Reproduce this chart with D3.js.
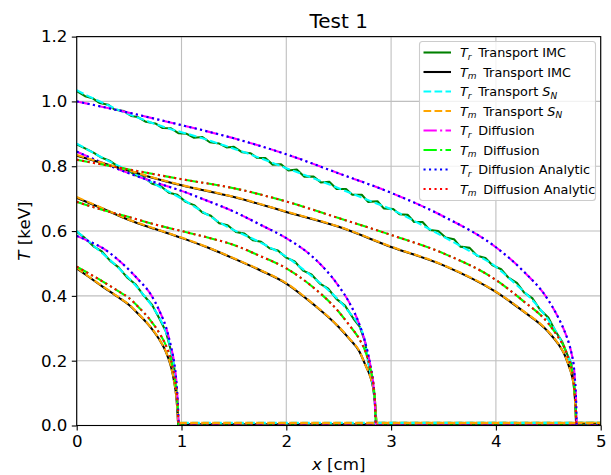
<!DOCTYPE html>
<html><head><meta charset="utf-8">
<script src="https://cdn.jsdelivr.net/npm/d3@7"></script>
<style>
html,body{margin:0;padding:0;background:#fff;}
text{font-family:"DejaVu Sans",sans-serif;}
</style></head>
<body>
<svg id="chart" width="611" height="475"></svg>
<script>
// ---------------- data ----------------
const title = "Test 1";
const xTicks = [0, 1, 2, 3, 4, 5];
const yTicks = [0.0, 0.2, 0.4, 0.6, 0.8, 1.0, 1.2];

// Snapshot 1 (front ~0.97 cm)
const trImc1 = [[0,0.598],[0.08,0.578],[0.16,0.553],[0.24,0.537],[0.32,0.508],[0.4,0.488],[0.48,0.457],[0.56,0.436],[0.64,0.401],[0.72,0.372],[0.8,0.323],[0.85,0.291],[0.9,0.23],[0.93,0.181],[0.95,0.118],[0.962,0.058],[0.97,0.003],[5,0.003]];
const tmImc1 = [[0,0.485],[0.1,0.462],[0.25,0.428],[0.4,0.395],[0.5,0.372],[0.6,0.34],[0.7,0.305],[0.8,0.259],[0.85,0.228],[0.9,0.181],[0.93,0.135],[0.95,0.09],[0.962,0.04],[0.968,0.003],[5,0.003]];
const trSn1 = [[0,0.60],[0.1,0.572],[0.2,0.544],[0.3,0.516],[0.4,0.486],[0.5,0.454],[0.6,0.418],[0.7,0.377],[0.8,0.326],[0.85,0.29],[0.9,0.233],[0.93,0.18],[0.95,0.12],[0.962,0.06],[0.97,0.008],[5,0.008]];
const tmSn1 = [[0,0.487],[0.1,0.463],[0.25,0.429],[0.4,0.396],[0.5,0.373],[0.6,0.341],[0.7,0.306],[0.8,0.26],[0.85,0.229],[0.9,0.182],[0.93,0.136],[0.95,0.09],[0.962,0.04],[0.968,0.008],[5,0.008]];
const trDiff1 = [[0,0.585],[0.1,0.571],[0.25,0.547],[0.4,0.51],[0.5,0.48],[0.6,0.446],[0.7,0.408],[0.8,0.346],[0.85,0.306],[0.9,0.243],[0.93,0.195],[0.95,0.14],[0.965,0.07],[0.975,0],[5,0]];
const tmDiff1 = [[0,0.49],[0.1,0.472],[0.25,0.444],[0.4,0.414],[0.5,0.393],[0.6,0.362],[0.7,0.326],[0.8,0.279],[0.85,0.248],[0.9,0.202],[0.93,0.155],[0.95,0.11],[0.965,0.05],[0.972,0],[5,0]];
const trAna1 = [[0,0.585],[0.1,0.571],[0.25,0.547],[0.4,0.51],[0.5,0.48],[0.6,0.446],[0.7,0.408],[0.8,0.346],[0.85,0.306],[0.9,0.243],[0.93,0.195],[0.95,0.14],[0.965,0.07],[0.975,0],[5,0]];
const tmAna1 = [[0,0.49],[0.1,0.472],[0.25,0.444],[0.4,0.414],[0.5,0.393],[0.6,0.362],[0.7,0.326],[0.8,0.279],[0.85,0.248],[0.9,0.202],[0.93,0.155],[0.95,0.11],[0.965,0.05],[0.972,0],[5,0]];

// Snapshot 2 (front ~2.86 cm)
const trImc2 = [[0,0.868],[0.08,0.855],[0.16,0.842],[0.24,0.826],[0.32,0.816],[0.4,0.798],[0.48,0.79],[0.56,0.772],[0.64,0.766],[0.72,0.746],[0.8,0.739],[0.88,0.718],[0.96,0.712],[1.04,0.69],[1.12,0.68],[1.2,0.657],[1.28,0.647],[1.36,0.624],[1.44,0.618],[1.52,0.597],[1.6,0.592],[1.68,0.572],[1.76,0.567],[1.84,0.547],[1.92,0.54],[2.0,0.518],[2.08,0.506],[2.16,0.478],[2.24,0.466],[2.32,0.438],[2.4,0.422],[2.48,0.39],[2.56,0.37],[2.64,0.33],[2.7,0.305],[2.75,0.26],[2.78,0.2],[2.81,0.15],[2.83,0.115],[2.845,0.07],[2.855,0.03],[2.86,0.003],[5,0.003]];
const tmImc2 = [[0,0.703],[0.25,0.669],[0.5,0.634],[0.75,0.606],[1,0.579],[1.25,0.549],[1.5,0.515],[1.75,0.479],[2,0.438],[2.25,0.376],[2.5,0.304],[2.6,0.268],[2.7,0.227],[2.75,0.19],[2.8,0.152],[2.83,0.115],[2.845,0.08],[2.855,0.035],[2.86,0.003],[5,0.003]];
const trSn2 = [[0,0.87],[0.1,0.852],[0.2,0.834],[0.3,0.817],[0.4,0.801],[0.5,0.786],[0.6,0.77],[0.7,0.753],[0.8,0.735],[0.9,0.718],[1.0,0.70],[1.1,0.68],[1.2,0.66],[1.3,0.64],[1.4,0.62],[1.5,0.603],[1.6,0.588],[1.7,0.573],[1.8,0.557],[1.9,0.54],[2.0,0.521],[2.1,0.497],[2.2,0.472],[2.3,0.446],[2.4,0.418],[2.5,0.387],[2.6,0.35],[2.7,0.305],[2.75,0.262],[2.78,0.2],[2.81,0.15],[2.83,0.115],[2.845,0.07],[2.855,0.03],[2.86,0.008],[5,0.008]];
const tmSn2 = [[0,0.705],[0.25,0.67],[0.5,0.635],[0.75,0.607],[1,0.58],[1.25,0.55],[1.5,0.516],[1.75,0.48],[2,0.439],[2.25,0.377],[2.5,0.305],[2.6,0.269],[2.7,0.228],[2.75,0.19],[2.8,0.152],[2.83,0.115],[2.845,0.08],[2.855,0.035],[2.86,0.008],[5,0.008]];
const trDiff2 = [[0,0.845],[0.25,0.81],[0.5,0.778],[0.75,0.75],[1,0.724],[1.25,0.693],[1.5,0.66],[1.75,0.62],[2,0.578],[2.25,0.521],[2.5,0.43],[2.6,0.38],[2.7,0.31],[2.75,0.26],[2.8,0.19],[2.83,0.13],[2.845,0.07],[2.855,0],[5,0]];
const tmDiff2 = [[0,0.69],[0.25,0.665],[0.5,0.643],[0.75,0.62],[1,0.60],[1.25,0.58],[1.5,0.557],[1.75,0.523],[2,0.485],[2.25,0.428],[2.5,0.351],[2.6,0.31],[2.7,0.265],[2.75,0.232],[2.8,0.18],[2.83,0.13],[2.845,0.08],[2.855,0],[5,0]];
const trAna2 = [[0,0.845],[0.25,0.81],[0.5,0.778],[0.75,0.75],[1,0.724],[1.25,0.693],[1.5,0.66],[1.75,0.62],[2,0.578],[2.25,0.521],[2.5,0.43],[2.6,0.38],[2.7,0.31],[2.75,0.26],[2.8,0.19],[2.83,0.13],[2.845,0.07],[2.855,0],[5,0]];
const tmAna2 = [[0,0.69],[0.25,0.665],[0.5,0.643],[0.75,0.62],[1,0.60],[1.25,0.58],[1.5,0.557],[1.75,0.523],[2,0.485],[2.25,0.428],[2.5,0.351],[2.6,0.31],[2.7,0.265],[2.75,0.232],[2.8,0.18],[2.83,0.13],[2.845,0.08],[2.855,0],[5,0]];

// Snapshot 3 (front ~4.77 cm)
const trImc3 = [[0,1.032],[0.08,1.016],[0.15,1.01],[0.22,0.995],[0.3,0.99],[0.36,0.975],[0.45,0.97],[0.52,0.955],[0.58,0.952],[0.66,0.937],[0.75,0.932],[0.82,0.918],[0.9,0.917],[0.97,0.902],[1.05,0.9],[1.12,0.888],[1.2,0.89],[1.27,0.874],[1.36,0.87],[1.43,0.858],[1.5,0.86],[1.58,0.843],[1.66,0.84],[1.72,0.826],[1.8,0.825],[1.87,0.805],[1.95,0.806],[2.02,0.787],[2.1,0.79],[2.17,0.768],[2.26,0.768],[2.33,0.75],[2.41,0.752],[2.48,0.73],[2.57,0.73],[2.63,0.712],[2.72,0.712],[2.78,0.69],[2.87,0.692],[2.93,0.67],[3.02,0.668],[3.08,0.652],[3.16,0.65],[3.22,0.628],[3.3,0.628],[3.37,0.603],[3.45,0.6],[3.52,0.58],[3.6,0.575],[3.66,0.552],[3.75,0.548],[3.82,0.524],[3.9,0.517],[3.97,0.494],[4.05,0.482],[4.12,0.456],[4.2,0.44],[4.27,0.41],[4.35,0.392],[4.42,0.358],[4.5,0.333],[4.57,0.29],[4.63,0.26],[4.68,0.22],[4.72,0.19],[4.745,0.14],[4.76,0.07],[4.768,0.003],[5,0.003]];
const tmImc3 = [[0,0.833],[0.25,0.809],[0.5,0.786],[0.75,0.762],[1,0.741],[1.5,0.705],[2,0.659],[2.5,0.613],[3,0.551],[3.5,0.494],[4,0.412],[4.25,0.355],[4.5,0.289],[4.6,0.249],[4.65,0.222],[4.7,0.18],[4.72,0.16],[4.75,0.1],[4.76,0.05],[4.765,0.003],[5,0.003]];
const trSn3 = [[0,1.035],[0.1,1.018],[0.2,1.003],[0.3,0.988],[0.4,0.973],[0.5,0.96],[0.6,0.948],[0.7,0.936],[0.8,0.925],[0.9,0.914],[1.0,0.905],[1.2,0.886],[1.4,0.865],[1.6,0.843],[1.8,0.819],[2.0,0.794],[2.2,0.77],[2.4,0.745],[2.6,0.719],[2.8,0.693],[3.0,0.667],[3.2,0.635],[3.4,0.60],[3.6,0.565],[3.8,0.529],[4.0,0.49],[4.1,0.462],[4.2,0.433],[4.3,0.403],[4.4,0.368],[4.5,0.326],[4.6,0.275],[4.65,0.243],[4.7,0.205],[4.72,0.19],[4.74,0.15],[4.755,0.1],[4.762,0.05],[4.768,0.008],[5,0.008]];
const tmSn3 = [[0,0.835],[0.25,0.81],[0.5,0.787],[0.75,0.763],[1,0.742],[1.5,0.706],[2,0.66],[2.5,0.614],[3,0.552],[3.5,0.495],[4,0.413],[4.25,0.356],[4.5,0.29],[4.6,0.25],[4.65,0.223],[4.7,0.18],[4.72,0.16],[4.75,0.1],[4.76,0.05],[4.765,0.008],[5,0.008]];
const trDiff3 = [[0,1.0],[0.25,0.983],[0.5,0.965],[0.75,0.946],[1,0.927],[1.5,0.886],[2,0.837],[2.5,0.778],[3,0.718],[3.5,0.645],[4,0.55],[4.25,0.48],[4.5,0.387],[4.6,0.33],[4.65,0.295],[4.7,0.25],[4.72,0.225],[4.75,0.16],[4.765,0.08],[4.772,0],[5,0]];
const tmDiff3 = [[0,0.82],[0.5,0.79],[1,0.76],[1.5,0.732],[2,0.691],[2.5,0.64],[3,0.588],[3.5,0.531],[4,0.449],[4.25,0.387],[4.5,0.315],[4.6,0.27],[4.65,0.243],[4.7,0.2],[4.72,0.18],[4.75,0.11],[4.762,0.05],[4.768,0],[5,0]];
const trAna3 = [[0,1.0],[0.25,0.983],[0.5,0.965],[0.75,0.946],[1,0.927],[1.5,0.886],[2,0.837],[2.5,0.778],[3,0.718],[3.5,0.645],[4,0.55],[4.25,0.48],[4.5,0.387],[4.6,0.33],[4.65,0.295],[4.7,0.25],[4.72,0.225],[4.75,0.16],[4.765,0.08],[4.772,0],[5,0]];
const tmAna3 = [[0,0.82],[0.5,0.79],[1,0.76],[1.5,0.732],[2,0.691],[2.5,0.64],[3,0.588],[3.5,0.531],[4,0.449],[4.25,0.387],[4.5,0.315],[4.6,0.27],[4.65,0.243],[4.7,0.2],[4.72,0.18],[4.75,0.11],[4.762,0.05],[4.768,0],[5,0]];

// legend entries
const legendSubs = ["r","m","r","m","r","m","r","m"];
const legendLabels = ["Transport IMC","Transport IMC","Transport ","Transport ","Diffusion","Diffusion","Diffusion Analytic","Diffusion Analytic"];
const legendSN = [false,false,true,true,false,false,false,false];

// ---------------- styles ----------------
const LW = 2.08;
const styles = [
  {color:"#008000", dash:null, linear:true},
  {color:"#000000", dash:null},
  {color:"#00ffff", dash:"7.7,3.3"},
  {color:"#ffa500", dash:"7.7,3.3"},
  {color:"#ff00ff", dash:"13.3,3.3,2.1,3.3"},
  {color:"#00ff00", dash:"13.3,3.3,2.1,3.3"},
  {color:"#0000ff", dash:"2.1,3.4"},
  {color:"#ff0000", dash:"2.1,3.4"}
];
const snapshots = [
  [trImc1, tmImc1, trSn1, tmSn1, trDiff1, tmDiff1, trAna1, tmAna1],
  [trImc2, tmImc2, trSn2, tmSn2, trDiff2, tmDiff2, trAna2, tmAna2],
  [trImc3, tmImc3, trSn3, tmSn3, trDiff3, tmDiff3, trAna3, tmAna3]
];

// ---------------- drawing ----------------
const svg = d3.select("#chart");
const L = 76.7, R = 600.7, T = 36.6, B = 425.5;
const x = d3.scaleLinear().domain([0,5]).range([L,R]);
const y = d3.scaleLinear().domain([0,1.2]).range([B,T]);
const FS = 16.67;

svg.append("rect").attr("width",611).attr("height",475).attr("fill","#fff");

// grid
const grid = svg.append("g").attr("stroke","#b0b0b0").attr("stroke-width",1.1).attr("opacity",0.8);
xTicks.forEach(t => grid.append("line").attr("x1",x(t)).attr("x2",x(t)).attr("y1",T).attr("y2",B));
yTicks.forEach(t => grid.append("line").attr("x1",L).attr("x2",R).attr("y1",y(t)).attr("y2",y(t)));

svg.append("clipPath").attr("id","clip").append("rect")
  .attr("x",L).attr("y",T-2).attr("width",R-L).attr("height",B-T+2);

const smooth = d3.line().x(d=>x(d[0])).y(d=>y(d[1])).curve(d3.curveMonotoneX);
const jagged = d3.line().x(d=>x(d[0])).y(d=>y(d[1])).curve(d3.curveLinear);
const plot = svg.append("g").attr("clip-path","url(#clip)");
snapshots.forEach(series => {
  series.forEach((data,i) => {
    const st = styles[i];
    plot.append("path").attr("d",(st.linear?jagged:smooth)(data)).attr("fill","none")
      .attr("stroke",st.color).attr("stroke-width",LW)
      .attr("stroke-dasharray",st.dash).attr("stroke-linejoin","round");
  });
});

// axes
const xAxis = d3.axisBottom(x).tickValues(xTicks).tickFormat(d3.format("d")).tickSize(4.9).tickPadding(4.4);
const yAxis = d3.axisLeft(y).tickValues(yTicks).tickFormat(d3.format(".1f")).tickSize(4.9).tickPadding(4.4);
const gx = svg.append("g").attr("transform",`translate(0,${B})`).call(xAxis);
const gy = svg.append("g").attr("transform",`translate(${L},0)`).call(yAxis);
[gx,gy].forEach(g => {
  g.select(".domain").remove();
  g.selectAll(".tick line").attr("stroke","#000").attr("stroke-width",1.1);
  g.selectAll(".tick text").attr("font-size",FS).attr("fill","#000").attr("font-family","DejaVu Sans");
});
// frame
svg.append("rect").attr("x",L).attr("y",T).attr("width",R-L).attr("height",B-T)
  .attr("fill","none").attr("stroke","#000").attr("stroke-width",1.1);

// title
svg.append("text").attr("x",(L+R)/2).attr("y",28).attr("text-anchor","middle")
  .attr("font-size",20).text(title);

// x label
const xl = svg.append("text").attr("x",(L+R)/2).attr("y",470).attr("text-anchor","middle").attr("font-size",FS);
xl.append("tspan").attr("font-style","italic").text("x");
xl.append("tspan").text(" [cm]");

// y label
const yl = svg.append("text").attr("transform",`translate(30,${(T+B)/2}) rotate(-90)`)
  .attr("text-anchor","middle").attr("font-size",FS);
yl.append("tspan").attr("font-style","italic").text("T");
yl.append("tspan").text(" [keV]");

// legend
const lg = svg.append("g");
lg.append("rect").attr("x",419.5).attr("y",41.5).attr("width",176).attr("height",159)
  .attr("rx",3).attr("fill","#fff").attr("fill-opacity",0.8).attr("stroke","#cccccc").attr("stroke-width",1.1);
const LFS = 12.8;
legendLabels.forEach((lab,i) => {
  const yy = 52.5 + i*19.5;
  lg.append("line").attr("x1",423.5).attr("x2",451).attr("y1",yy).attr("y2",yy)
    .attr("stroke",styles[i].color).attr("stroke-width",LW).attr("stroke-dasharray",styles[i].dash);
  const t = lg.append("text").attr("x",460).attr("y",yy+4.5).attr("font-size",LFS);
  t.append("tspan").attr("font-style","italic").text("T");
  t.append("tspan").attr("font-style","italic").attr("font-size",LFS*0.7).attr("dy",2.5).text(legendSubs[i]);
  t.append("tspan").attr("dy",-2.5).text("\u2009 " + lab);
  if (legendSN[i]) {
    t.append("tspan").attr("font-style","italic").text("S");
    t.append("tspan").attr("font-style","italic").attr("font-size",LFS*0.7).attr("dy",2.5).text("N");
  }
});
</script>
</body></html>
